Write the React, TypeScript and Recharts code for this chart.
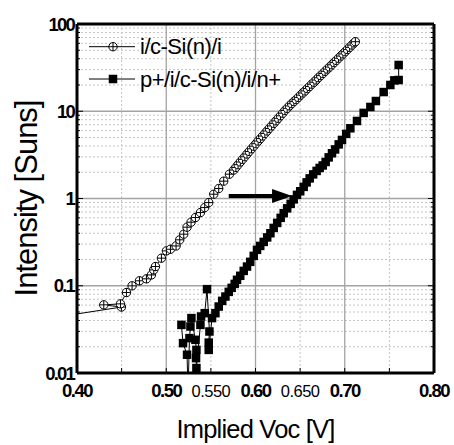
import React from 'react';
import { LineChart, Line, XAxis, YAxis, CartesianGrid, ReferenceLine, Legend } from 'recharts';

const circleV = [0.300, 0.4498, 0.4300, 0.4487, 0.4554, 0.4617, 0.4700, 0.4778, 0.4834, 0.4860, 0.4879, 0.4946, 0.5002, 0.5047, 0.5110, 0.5151, 0.5196, 0.5233, 0.5278, 0.5327, 0.5383, 0.5431, 0.5476, 0.5532, 0.5588, 0.5644, 0.5708, 0.5756, 0.5780, 0.5805, 0.5830, 0.5855, 0.5880, 0.5905, 0.5930, 0.5955, 0.5980, 0.6005, 0.6030, 0.6055, 0.6080, 0.6105, 0.6130, 0.6155, 0.6180, 0.6205, 0.6230, 0.6255, 0.6280, 0.6305, 0.6330, 0.6355, 0.6380, 0.6405, 0.6430, 0.6455, 0.6480, 0.6505, 0.6530, 0.6555, 0.6580, 0.6605, 0.6630, 0.6655, 0.6680, 0.6705, 0.6730, 0.6755, 0.6780, 0.6805, 0.6830, 0.6855, 0.6880, 0.6905, 0.6930, 0.6955, 0.6980, 0.7005, 0.7030, 0.7055, 0.7080, 0.7105, 0.7119];
const circleI = [0.033, 0.057, 0.0604, 0.062, 0.0836, 0.0998, 0.114, 0.120, 0.133, 0.152, 0.166, 0.207, 0.251, 0.262, 0.286, 0.336, 0.390, 0.469, 0.535, 0.605, 0.690, 0.787, 0.898, 1.12, 1.30, 1.58, 1.90, 2.12, 2.27, 2.44, 2.62, 2.81, 3.01, 3.23, 3.46, 3.71, 3.97, 4.25, 4.55, 4.86, 5.20, 5.56, 5.94, 6.35, 6.79, 7.26, 7.76, 8.30, 8.87, 9.50, 10.2, 10.8, 11.5, 12.2, 12.9, 13.6, 14.4, 15.3, 16.2, 17.1, 18.2, 19.2, 20.4, 21.5, 22.8, 24.2, 25.6, 27.1, 28.7, 30.4, 32.1, 34.1, 36.1, 38.2, 40.5, 42.9, 45.4, 48.1, 50.9, 54.0, 57.3, 60.7, 62.7];

const squareV = [0.5170, 0.5188, 0.5233, 0.5244, 0.5260, 0.5271, 0.5282, 0.5327, 0.5338, 0.5334, 0.5338, 0.5383, 0.5390, 0.5431, 0.5457, 0.5484, 0.5476, 0.5476, 0.5513, 0.5551, 0.5588, 0.5627, 0.5663, 0.5700, 0.5733, 0.5767, 0.5793, 0.5829, 0.5868, 0.5905, 0.5941, 0.5980, 0.6017, 0.6053, 0.6092, 0.6131, 0.6167, 0.6204, 0.6243, 0.6282, 0.6316, 0.6355, 0.6394, 0.6428, 0.6465, 0.6501, 0.6540, 0.6573, 0.6607, 0.6646, 0.6685, 0.6719, 0.6753, 0.6786, 0.6820, 0.6857, 0.6892, 0.6932, 0.6969, 0.7016, 0.7063, 0.7137, 0.7212, 0.7287, 0.7349, 0.7436, 0.7511, 0.7556, 0.7604, 0.7604];
const squareI = [0.0356, 0.0220, 0.0162, 0.006, 0.0251, 0.0341, 0.0426, 0.0240, 0.0184, 0.0148, 0.0114, 0.0356, 0.0444, 0.0485, 0.0914, 0.0299, 0.0223, 0.0184, 0.0426, 0.0485, 0.0578, 0.0671, 0.0752, 0.0851, 0.0946, 0.105, 0.117, 0.130, 0.148, 0.166, 0.188, 0.220, 0.258, 0.286, 0.318, 0.358, 0.400, 0.460, 0.525, 0.600, 0.679, 0.771, 0.867, 0.977, 1.10, 1.21, 1.36, 1.53, 1.70, 1.89, 2.07, 2.24, 2.39, 2.62, 2.96, 3.30, 3.65, 4.17, 4.69, 5.50, 6.38, 7.74, 9.57, 11.2, 13.1, 16.6, 20.0, 22.6, 22.8, 33.9];

const seriesNames = ['i/c-Si(n)/i', 'p+/i/c-Si(n)/i/n+'];

const xTicks = [0.4, 0.45, 0.5, 0.55, 0.6, 0.65, 0.7, 0.75, 0.8];
const xTickLabels = ['0.40', '', '0.50', '0.550', '0.60', '0.650', '0.70', '', '0.80'];
const xTickBold = [true, false, true, false, true, false, true, false, true];

const yMajor = [0.01, 0.1, 1, 10, 100];
const yMajorLabels = ['0.01', '0.1', '1', '10', '100'];
const yMinor = [0.02, 0.03, 0.04, 0.05, 0.06, 0.07, 0.08, 0.09, 0.2, 0.3, 0.4, 0.5, 0.6, 0.7, 0.8, 0.9, 2, 3, 4, 5, 6, 7, 8, 9, 20, 30, 40, 50, 60, 70, 80, 90];
const yTicks = [...yMajor, ...yMinor].sort((a, b) => a - b);

const xGridMajor = [0.5, 0.6, 0.7];
const xGridMinor = [0.45, 0.55, 0.65, 0.75];
const yGridMajor = [0.1, 1, 10];
const yGridMinor = yMinor;

const arrowV = [0.570, 0.641];
const arrowI = [1.07, 1.07];

const circleData = circleV.map((v, i) => ({ v, I: circleI[i] }));
const squareData = squareV.map((v, i) => ({ v, I: squareI[i] }));

const FONT = '"Liberation Sans", Arial, Helvetica, sans-serif';

const CircleDot = (p: any) => {
  const { cx, cy } = p;
  if (cx == null || cy == null || isNaN(cx) || isNaN(cy)) return null;
  const r = 4.2;
  return (
    <g>
      <circle cx={cx} cy={cy} r={r} fill="#fff" stroke="#000" strokeWidth={1} />
      <line x1={cx - r} x2={cx + r} y1={cy} y2={cy} stroke="#000" strokeWidth={1} />
      <line x1={cx} x2={cx} y1={cy - r} y2={cy + r} stroke="#000" strokeWidth={1} />
    </g>
  );
};

const SquareDot = (p: any) => {
  const { cx, cy } = p;
  if (cx == null || cy == null || isNaN(cx) || isNaN(cy)) return null;
  const s = 8.5;
  return <rect x={cx - s / 2} y={cy - s / 2} width={s} height={s} fill="#000" />;
};

const BottomTick = (p: any) => {
  const { x, y, payload } = p;
  const idx = xTicks.findIndex((t) => Math.abs(t - payload.value) < 1e-6);
  const label = idx >= 0 ? xTickLabels[idx] : '';
  const bold = idx >= 0 ? xTickBold[idx] : false;
  return (
    <g>
      <line x1={x} x2={x} y1={y} y2={y - 5} stroke="#000" strokeWidth={1} />
      {label ? (
        <text
          x={x}
          y={y + 24}
          textAnchor="middle"
          fontFamily={FONT}
          fontWeight={bold ? 700 : 400}
          fontSize={bold ? 18.5 : 16.5}
          letterSpacing={bold ? -1.5 : -0.5}
          fill="#000"
        >
          {label}
        </text>
      ) : null}
    </g>
  );
};

const TopTick = (p: any) => {
  const { x, y } = p;
  return <line x1={x} x2={x} y1={y} y2={y + 5} stroke="#000" strokeWidth={1} />;
};

const LeftTick = (p: any) => {
  const { x, y, payload } = p;
  const idx = yMajor.findIndex((t) => Math.abs(t - payload.value) < t * 1e-6);
  const major = idx >= 0;
  return (
    <g>
      <line x1={x} x2={x + (major ? 6 : 3)} y1={y} y2={y} stroke="#000" strokeWidth={1} />
      {major ? (
        <text
          x={x - 3}
          y={y + 6.5}
          textAnchor="end"
          fontFamily={FONT}
          fontWeight={700}
          fontSize={18.5}
          letterSpacing={-1.8}
          fill="#000"
        >
          {yMajorLabels[idx]}
        </text>
      ) : null}
    </g>
  );
};

const RightTick = (p: any) => {
  const { x, y, payload } = p;
  const major = yMajor.some((t) => Math.abs(t - payload.value) < t * 1e-6);
  return <line x1={x} x2={x - (major ? 6 : 3)} y1={y} y2={y} stroke="#000" strokeWidth={1} />;
};

const XTitle = (p: any) => {
  const vb = p.viewBox || {};
  return (
    <text
      x={vb.x + vb.width / 2}
      y={vb.y + 65}
      textAnchor="middle"
      fontFamily={FONT}
      fontSize={25.5}
      letterSpacing={-0.8}
      fill="#000"
    >
      Implied Voc [V]
    </text>
  );
};

const YTitle = (p: any) => {
  const vb = p.viewBox || {};
  const cx = vb.x + 19.7;
  const cy = vb.y + vb.height / 2;
  return (
    <text
      x={cx}
      y={cy}
      transform={`rotate(-90 ${cx} ${cy})`}
      textAnchor="middle"
      fontFamily={FONT}
      fontSize={31}
      letterSpacing={-1}
      fill="#000"
    >
      Intensity [Suns]
    </text>
  );
};

const ArrowShape = (p: any) => {
  const { x1, y1, x2, y2 } = p;
  if (x1 == null || x2 == null) return null;
  const head = 20;
  const hw = 7;
  return (
    <g>
      <line x1={x1} y1={y1} x2={x2 - head + 2} y2={y2} stroke="#000" strokeWidth={4} />
      <polygon points={`${x2},${y2} ${x2 - head},${y2 - hw} ${x2 - head},${y2 + hw}`} fill="#000" />
    </g>
  );
};

const LegendContent = () => (
  <svg width={220} height={70} style={{ display: 'block', overflow: 'visible' }}>
    <g>
      <line x1={9} x2={55} y1={16.7} y2={16.7} stroke="#000" strokeWidth={1} />
      <CircleDot cx={33} cy={16.7} />
      <text x={60} y={24} fontFamily={FONT} fontSize={22} letterSpacing={-0.5} fill="#000">
        {seriesNames[0]}
      </text>
    </g>
    <g>
      <line x1={9} x2={55} y1={49} y2={49} stroke="#000" strokeWidth={1} />
      <SquareDot cx={33} cy={49} />
      <text x={60} y={56.5} fontFamily={FONT} fontSize={22} letterSpacing={-0.5} fill="#000">
        {seriesNames[1]}
      </text>
    </g>
  </svg>
);

export default function App() {
  return (
    <div style={{ position: 'absolute', left: 0, top: 0, width: 454, height: 445, background: '#fff' }}>
      <LineChart width={454} height={445} margin={{ top: 20, right: 16, bottom: 32, left: 17 }}>
        <CartesianGrid
          horizontalValues={yGridMinor}
          verticalValues={xGridMinor}
          stroke="#c4c4c4"
          strokeDasharray="2 2"
          strokeWidth={1}
          fill="none"
        />
        <CartesianGrid
          horizontalValues={yGridMajor}
          verticalValues={xGridMajor}
          stroke="#a3a3a3"
          strokeWidth={1.3}
          fill="none"
        />
        <XAxis
          type="number"
          dataKey="v"
          domain={[0.4, 0.8]}
          ticks={xTicks}
          allowDataOverflow
          interval={0}
          tickSize={0}
          tickMargin={0}
          tickLine={false}
          axisLine={{ stroke: '#000', strokeWidth: 3 }}
          tick={(p: any) => <BottomTick {...p} />}
          height={40}
          label={(p: any) => <XTitle {...p} />}
        />
        <XAxis
          xAxisId="top"
          orientation="top"
          type="number"
          domain={[0.4, 0.8]}
          ticks={xTicks}
          allowDataOverflow
          interval={0}
          tickSize={0}
          tickMargin={0}
          tickLine={false}
          axisLine={{ stroke: '#000', strokeWidth: 3 }}
          tick={(p: any) => <TopTick {...p} />}
          height={4}
        />
        <YAxis
          type="number"
          scale="log"
          domain={[0.01, 100]}
          ticks={yTicks}
          allowDataOverflow
          interval={0}
          tickSize={0}
          tickMargin={0}
          tickLine={false}
          axisLine={{ stroke: '#000', strokeWidth: 3 }}
          tick={(p: any) => <LeftTick {...p} />}
          width={60}
          label={(p: any) => <YTitle {...p} />}
        />
        <YAxis
          yAxisId="right"
          orientation="right"
          type="number"
          scale="log"
          domain={[0.01, 100]}
          ticks={yTicks}
          allowDataOverflow
          interval={0}
          tickSize={0}
          tickMargin={0}
          tickLine={false}
          axisLine={{ stroke: '#000', strokeWidth: 3 }}
          tick={(p: any) => <RightTick {...p} />}
          width={4}
        />
        <Line
          data={circleData}
          dataKey="I"
          type="linear"
          stroke="#000"
          strokeWidth={1}
          dot={(p: any) => <CircleDot key={`c${p.index}`} {...p} />}
          activeDot={false}
          isAnimationActive={false}
          name={seriesNames[0]}
        />
        <Line
          data={squareData}
          dataKey="I"
          type="linear"
          stroke="#000"
          strokeWidth={1}
          dot={(p: any) => <SquareDot key={`s${p.index}`} {...p} />}
          activeDot={false}
          isAnimationActive={false}
          name={seriesNames[1]}
        />
        <ReferenceLine
          segment={[
            { x: arrowV[0], y: arrowI[0] },
            { x: arrowV[1], y: arrowI[1] },
          ]}
          ifOverflow="visible"
          shape={(p: any) => <ArrowShape {...p} />}
        />
        <Legend
          layout="vertical"
          align="center"
          verticalAlign="middle"
          content={() => <LegendContent />}
          wrapperStyle={{ position: 'absolute', left: 80, top: 30, width: 220, height: 70 }}
        />
      </LineChart>
    </div>
  );
}
